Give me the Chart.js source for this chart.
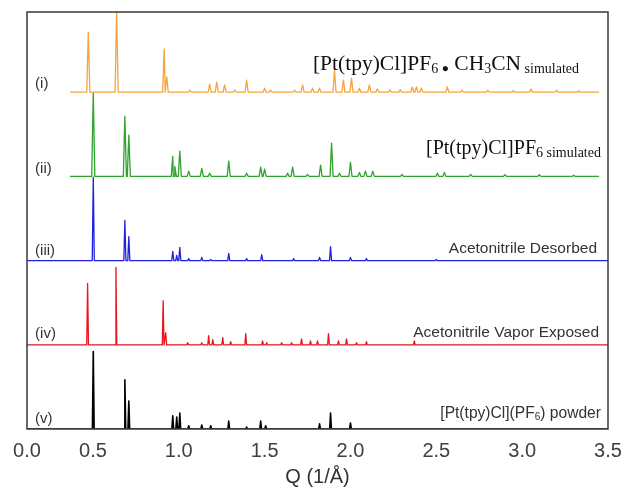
<!DOCTYPE html>
<html>
<head>
<meta charset="utf-8">
<script src="https://cdn.jsdelivr.net/npm/chart.js@4"></script>
<style>
  html, body { margin: 0; padding: 0; background: #fff; }
  #wrap { width: 626px; height: 488px; }
</style>
</head>
<body>
<div id="wrap"><canvas id="xrd" width="626" height="488"></canvas></div>
<script>
// x axis: the frame starts a bit right of Q = 0, the "0.0" label sits on the frame
var qMin = 0.116;
var qMax = 3.5;
var tickValues = [qMin, 0.5, 1.0, 1.5, 2.0, 2.5, 3.0, 3.5];
var tickLabels = ["0.0", "0.5", "1.0", "1.5", "2.0", "2.5", "3.0", "3.5"];

var traceNames = ["(i)", "(ii)", "(iii)", "(iv)", "(v)"];
var offsets = [84, 63, 42, 21, 0];
var qStart = [0.366, 0.366, qMin, qMin, qMin];
var qEnd = [3.448, 3.448, qMax, qMax, qMax];

// [Q, intensity]
var peaksI = [[0.473, 15], [0.638, 20.5], [0.915, 10.8], [0.930, 3.8], [1.064, 0.5], [1.180, 2], [1.221, 2.5],
  [1.267, 1.8], [1.326, 0.5], [1.395, 3], [1.500, 1], [1.535, 0.5], [1.674, 0.5], [1.721, 1.8], [1.779, 1],
  [1.820, 1], [1.907, 5.5], [1.959, 3], [2.006, 3.5], [2.052, 1], [2.110, 1.8], [2.157, 0.8], [2.23, 0.6],
  [2.29, 0.6], [2.360, 1.3], [2.384, 1.3], [2.413, 1], [2.564, 1.3], [2.65, 0.5], [2.80, 0.5], [2.95, 0.4],
  [3.052, 0.8], [3.2, 0.5], [3.33, 0.4]];
var peaksII = [[0.502, 20.8], [0.686, 15], [0.709, 10.3], [0.965, 5], [0.977, 2.5], [1.006, 6.3], [1.058, 1.3],
  [1.134, 2], [1.180, 0.8], [1.291, 3.8], [1.395, 0.8], [1.477, 2.3], [1.500, 1.8], [1.634, 0.8], [1.663, 2.3],
  [1.750, 0.5], [1.826, 2.8], [1.890, 8.3], [1.936, 0.8], [2.000, 3.5], [2.052, 1], [2.087, 1.3], [2.13, 1.3],
  [2.30, 0.5], [2.506, 0.8], [2.547, 1], [2.70, 0.5], [2.90, 0.4], [3.10, 0.4], [3.30, 0.3]];
var peaksIII = [[0.502, 20.8], [0.686, 10], [0.709, 6], [0.965, 2.3], [0.988, 1.3], [1.006, 3.3], [1.058, 0.5],
  [1.134, 0.8], [1.186, 0.3], [1.291, 1.8], [1.395, 0.5], [1.483, 1.5], [1.669, 0.5], [1.820, 0.8],
  [1.884, 3.5], [2.000, 0.8], [2.093, 0.5], [2.50, 0.3]];
var peaksIV = [[0.469, 15.3], [0.634, 19.3], [0.909, 11], [0.924, 3], [1.052, 0.5], [1.134, 0.5], [1.174, 2.3],
  [1.198, 1.3], [1.256, 1.8], [1.302, 0.8], [1.390, 2.8], [1.488, 1], [1.512, 0.5], [1.599, 0.5], [1.657, 0.5],
  [1.715, 1.5], [1.767, 1], [1.808, 1], [1.872, 2.8], [1.930, 1], [1.977, 1.5], [2.035, 0.5], [2.093, 0.8],
  [2.372, 1]];
var peaksV = [[0.502, 19.3], [0.686, 12.3], [0.709, 7], [0.965, 3.3], [0.988, 3], [1.006, 4], [1.058, 0.8],
  [1.134, 1], [1.186, 0.8], [1.291, 2], [1.395, 0.5], [1.477, 2], [1.506, 0.8], [1.820, 1.3], [1.884, 4],
  [2.000, 1.5]];
var allPeaks = [peaksI, peaksII, peaksIII, peaksIV, peaksV];

var colors = ["#F7A43C", "#2EA32E", "#2020E0", "#E8141E", "#000000"];
var halfWidth = [0.009, 0.009, 0.006, 0.005, 0.005];

function buildLine(i) {
    var pts = [{x: qStart[i], y: offsets[i]}, {x: qEnd[i], y: offsets[i]}];
    allPeaks[i].forEach(function (p) {
        pts.push({x: p[0] - halfWidth[i], y: offsets[i]});
        pts.push({x: p[0], y: offsets[i] + p[1]});
        pts.push({x: p[0] + halfWidth[i], y: offsets[i]});
    });
    pts.sort(function (a, b) { return a.x - b.x; });
    return pts;
}

var datasets = traceNames.map(function (name, i) {
    return {
        label: name,
        data: buildLine(i),
        borderColor: colors[i],
        borderWidth: i == 4 ? 1.6 : 1.3,
        borderJoinStyle: "round",
        pointRadius: 0,
        tension: 0,
        fill: false
    };
});

// text inside the frame: segments of [text, size, baseline shift]
var serif = "'Liberation Serif', 'Times New Roman', serif";
var sans = "'Liberation Sans', Arial, sans-serif";
var notes = [
    {q: 3.331, v: 89.5, font: serif, color: "#111", segs: [["[Pt(tpy)Cl]PF", 21.5, 0], ["6", 14, 3], [" ", 14, 0], ["\u25CF", 12, 2], [" CH", 21.5, 0], ["3", 14, 3], ["CN", 21.5, 0], [" simulated", 14, 3]]},
    {q: 3.459, v: 68.5, font: serif, color: "#111", segs: [["[Pt(tpy)Cl]PF", 20, 0], ["6", 14, 3], [" simulated", 14, 3]]},
    {q: 3.436, v: 44, font: sans, color: "#333", segs: [["Acetonitrile Desorbed", 15.5, 0]]},
    {q: 3.448, v: 23, font: sans, color: "#333", segs: [["Acetonitrile Vapor Exposed", 15.5, 0]]},
    {q: 3.459, v: 2.75, font: sans, color: "#333", segs: [["[Pt(tpy)Cl](PF", 15.6, 0], ["6", 10, 2], [") powder", 15.6, 0]]}
];
var nameSpots = [[0.163, 85], [0.163, 63.75], [0.163, 43.5], [0.163, 22.75], [0.163, 1.5]];

var framePlugin = {
    id: "frame",
    afterDatasetsDraw: function (chart) {
        var ctx = chart.ctx, a = chart.chartArea;
        var sx = chart.scales.x, sy = chart.scales.y;
        ctx.save();
        ctx.strokeStyle = "#3a3a3a";
        ctx.lineWidth = 1.5;
        ctx.strokeRect(a.left, a.top, a.right - a.left, a.bottom - a.top);

        ctx.textBaseline = "alphabetic";
        ctx.fillStyle = "#333";
        ctx.font = "15px " + sans;
        traceNames.forEach(function (n, i) {
            ctx.fillText(n, sx.getPixelForValue(nameSpots[i][0]), sy.getPixelForValue(nameSpots[i][1]));
        });

        notes.forEach(function (nt) {
            var total = 0;
            nt.segs.forEach(function (s) {
                ctx.font = s[1] + "px " + nt.font;
                total += ctx.measureText(s[0]).width;
            });
            var x = sx.getPixelForValue(nt.q) - total;
            var y = sy.getPixelForValue(nt.v);
            ctx.fillStyle = nt.color;
            nt.segs.forEach(function (s) {
                ctx.font = s[1] + "px " + nt.font;
                ctx.fillText(s[0], x, y + s[2]);
                x += ctx.measureText(s[0]).width;
            });
        });
        ctx.restore();
    }
};

new Chart(document.getElementById("xrd").getContext("2d"), {
    type: "line",
    data: {datasets: datasets},
    options: {
        responsive: false,
        animation: false,
        layout: {padding: {left: 27, right: 18, top: 12, bottom: 0}},
        plugins: {legend: {display: false}, tooltip: {enabled: false}},
        scales: {
            x: {
                type: "linear",
                min: qMin,
                max: qMax,
                afterBuildTicks: function (scale) {
                    scale.ticks = tickValues.map(function (v) { return {value: v}; });
                },
                afterFit: function (scale) {
                    scale.paddingLeft = 0;
                    scale.paddingRight = 0;
                },
                grid: {display: false, drawTicks: false},
                border: {display: false},
                ticks: {
                    autoSkip: false,
                    maxRotation: 0,
                    padding: 10,
                    color: "#404040",
                    font: {family: sans, size: 20},
                    callback: function (v, idx) { return tickLabels[idx]; }
                },
                title: {
                    display: true,
                    text: "Q (1/\u00C5)",
                    color: "#333",
                    font: {family: sans, size: 20},
                    padding: {top: -8, bottom: -1}
                }
            },
            y: {
                display: false,
                min: 0,
                max: 104
            }
        }
    },
    plugins: [framePlugin]
});
</script>
</body>
</html>
